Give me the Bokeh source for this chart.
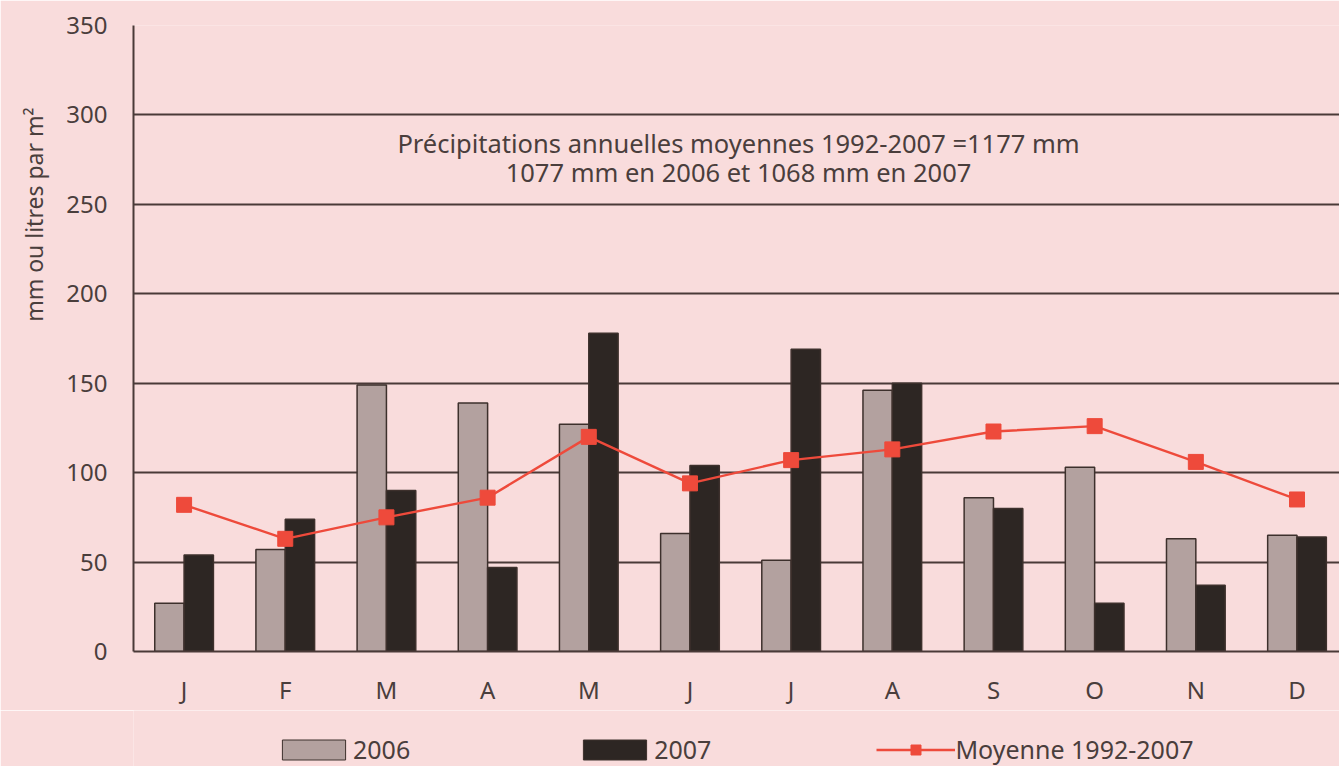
from bokeh.plotting import figure
from bokeh.layouts import column
from bokeh.models import ColumnDataSource, Range1d, Legend, LegendItem, Label, FixedTicker, Title
from bokeh.embed import file_html
from bokeh.resources import INLINE
from bokeh.transform import dodge

months = ["J", "F", "M", "A", "M", "J", "J", "A", "S", "O", "N", "D"]
rain_2006 = [27, 57, 149, 139, 127, 66, 51, 146, 86, 103, 63, 65]
rain_2007 = [54, 74, 90, 47, 178, 104, 169, 150, 80, 27, 37, 64]
mean_1992_2007 = [82, 63, 75, 86, 120, 94, 107, 113, 123, 126, 106, 85]
y_ticks = [0, 50, 100, 150, 200, 250, 300, 350]

FONT = "Noto Sans"
TXT = "#4a3e3c"
BG = "#f9dcdc"
C06, C07, CLINE, CEDGE = "#b3a19f", "#2d2623", "#ee4a3b", "#3d302c"

x = list(range(len(months)))
src = ColumnDataSource(dict(x=x, a=rain_2006, b=rain_2007, m=mean_1992_2007))

p = figure(width=1339, height=710, output_backend="svg", toolbar_location=None,
           x_range=Range1d(-0.5, 11.42), y_range=Range1d(0, 350),
           background_fill_color=BG, border_fill_color=BG,
           min_border_left=133, min_border_right=0, min_border_top=25,
           min_border_bottom=59)
p.outline_line_color = None

bw = 0.29
p.vbar(x=dodge("x", -bw / 2, range=p.x_range), top="a", width=bw, source=src,
       fill_color=C06, line_color=CEDGE, line_width=1.5)
p.vbar(x=dodge("x", bw / 2, range=p.x_range), top="b", width=bw, source=src,
       fill_color=C07, line_color=CEDGE, line_width=1.5)
p.line(x="x", y="m", source=src, line_color=CLINE, line_width=2.4)
p.scatter(x="x", y="m", source=src, marker="square", size=15,
          fill_color=CLINE, line_color=CLINE)

# grid
p.xgrid.visible = False
p.ygrid.ticker = FixedTicker(ticks=y_ticks)
p.ygrid.grid_line_color = "#4a3a38"
p.ygrid.grid_line_width = 2

# axes
p.yaxis.ticker = FixedTicker(ticks=y_ticks)
p.xaxis.ticker = FixedTicker(ticks=x)
p.xaxis.major_label_overrides = {i: m for i, m in enumerate(months)}
for ax in (p.xaxis[0], p.yaxis[0]):
    ax.axis_line_color = "#4a3a38"
    ax.axis_line_width = 2
    ax.major_tick_line_color = None
    ax.minor_tick_line_color = None
    ax.major_label_text_font = FONT
    ax.major_label_text_font_size = "24px"
    ax.major_label_text_color = TXT
p.yaxis.major_label_standoff = 20
p.xaxis.major_label_standoff = 15

# y-axis title, placed high as in the original
p.add_layout(Title(text="mm ou litres par m²", align="right", offset=82,
                   standoff=28, text_font=FONT, text_font_style="normal",
                   text_font_size="23px", text_color=TXT), "left")

for i, t in enumerate(["Précipitations annuelles moyennes 1992-2007 =1177 mm",
                       "1077 mm en 2006 et 1068 mm en 2007"]):
    p.add_layout(Label(x=5.48, y=284.5 - i * 16.3, text=t, text_align="center",
                       text_baseline="middle", text_font=FONT,
                       text_font_size="25.5px", text_color=TXT))

# legend strip
lf = figure(width=1339, height=56, output_backend="svg", toolbar_location=None,
            x_range=Range1d(0, 1), y_range=Range1d(0, 1),
            background_fill_color=BG, border_fill_color=BG,
            min_border=0, min_border_left=133)
lf.axis.visible = False
lf.grid.visible = False
lf.outline_line_color = None
hidden = ColumnDataSource(dict(x=[-10], y=[-10], t=[-10]))
g1 = lf.vbar(x="x", top="t", width=0.1, source=hidden, fill_color=C06, line_color=CEDGE)
g2 = lf.vbar(x="x", top="t", width=0.1, source=hidden, fill_color=C07, line_color=CEDGE)
g3 = lf.line(x="x", y="y", source=hidden, line_color=CLINE, line_width=2.4)
g4 = lf.scatter(x="x", y="y", source=hidden, marker="square", size=15,
                fill_color=CLINE, line_color=CLINE)
legend = Legend(items=[LegendItem(label="2006", renderers=[g1]),
                       LegendItem(label="2007", renderers=[g2]),
                       LegendItem(label="Moyenne 1992-2007", renderers=[g3, g4])],
                orientation="horizontal", location=(141, 0),
                glyph_width=79, glyph_height=25, label_standoff=0, spacing=165,
                label_text_font=FONT, label_text_font_size="25px",
                label_text_color=TXT, background_fill_alpha=0,
                border_line_color=None, margin=0, padding=0)
lf.add_layout(legend, "center")

html = file_html(column(p, lf, spacing=0), INLINE)
html = html.replace("<body>", '<body style="margin:0;background:%s">' % BG, 1)
open("out.html", "w").write(html)
